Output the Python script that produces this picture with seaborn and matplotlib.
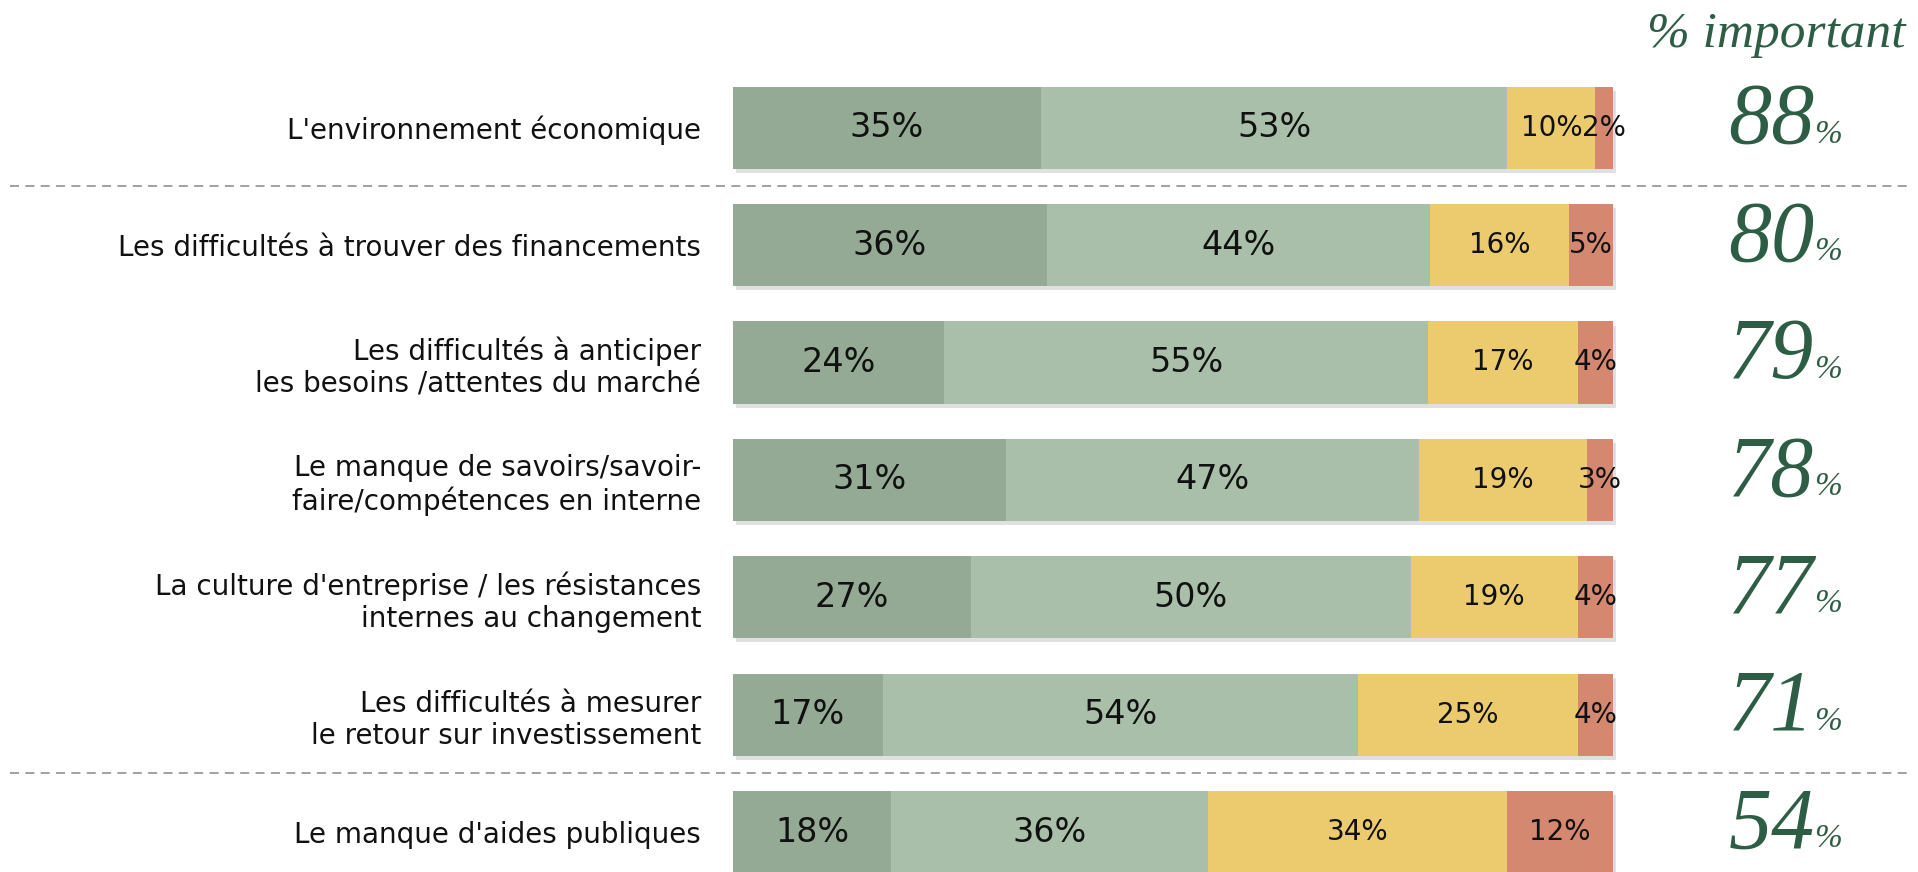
import pandas as pd
import matplotlib.pyplot as plt
import matplotlib.patheffects as pe
import seaborn as sns

# 項目とデータ
labels = [
    "L'environnement économique",
    "Les difficultés à trouver des financements",
    "Les difficultés à anticiper\nles besoins /attentes du marché",
    "Le manque de savoirs/savoir-\nfaire/compétences en interne",
    "La culture d'entreprise / les résistances\ninternes au changement",
    "Les difficultés à mesurer\nle retour sur investissement",
    "Le manque d'aides publiques",
]
tres_important = [35, 36, 24, 31, 27, 17, 18]
assez_important = [53, 44, 55, 47, 50, 54, 36]
peu_important = [10, 16, 17, 19, 19, 25, 34]
pas_important = [2, 5, 4, 3, 4, 4, 12]
pct_important = [88, 80, 79, 78, 77, 71, 54]

colors = ["#94AA95", "#A9BFAA", "#EBCB6D", "#D4886F"]
green_text = "#2D5E45"

df = pd.DataFrame({
    "label": labels,
    "s1": tres_important,
    "s2": assez_important,
    "s3": peu_important,
    "s4": pas_important,
})
series = ["s1", "s2", "s3", "s4"]

# 100%積み上げ（合計で割る）
share = df[series].div(df[series].sum(axis=1), axis=0) * 100
cum = share.cumsum(axis=1)

sns.set_style("white")
plt.rcParams["font.family"] = ["DejaVu Sans"]

W, H = 1918, 872
fig = plt.figure(figsize=(W / 100, H / 100), dpi=100)

# 軸の位置（ピクセルで計算）
ax_left = 733
ax = fig.add_axes([ax_left / W, 0, 1 - ax_left / W, 803 / H])
px_per_unit = 8.8
xmax = (W - ax_left) / px_per_unit

# 積み上げ棒（合計の大きい順に重ねて描く）
for i in range(3, -1, -1):
    n_before = len(ax.patches)
    sns.barplot(
        x=cum[series[i]],
        y=df["label"],
        orient="h",
        color=colors[i],
        width=0.70,
        saturation=1,
        linewidth=0,
        ax=ax,
    )
    if i == 3:
        # うっすら影をつける
        for p in ax.patches[n_before:]:
            p.set_path_effects([
                pe.SimplePatchShadow(offset=(2, -3), shadow_rgbFace="#000000", alpha=0.12),
                pe.Normal(),
            ])

# 棒の中の数値
for r in range(len(df)):
    for i, s in enumerate(series):
        v = df.loc[r, s]
        center = cum.loc[r, s] - share.loc[r, s] / 2
        ax.text(
            center, r, f"{v}%",
            ha="center", va="center",
            fontsize=24 if i < 2 else 20,
            color="#111111",
        )

# % important の数字
split = 122.9
for r, v in enumerate(pct_important):
    ax.text(split, r + 0.13, f"{v}", ha="right", va="baseline",
            fontsize=62, style="italic", family="Liberation Serif",
            color=green_text, clip_on=False)
    ax.text(split, r + 0.13, "%", ha="left", va="baseline",
            fontsize=24, style="italic", family="Liberation Serif",
            color=green_text, clip_on=False)

ax.text(118.6, -0.69, "% important", ha="center", va="baseline",
        fontsize=37, style="italic", family="Liberation Serif",
        color=green_text, clip_on=False)

# 区切りの点線
for yy in [0.5, 5.5]:
    ax.axhline(yy, xmin=(10 - ax_left) / (W - ax_left),
               xmax=(1908 - ax_left) / (W - ax_left),
               color="#9A9A9A", linestyle=(0, (5, 3.5)),
               linewidth=1.3, clip_on=False)

ax.set_xlim(0, xmax)
ax.set_ylim(6 + 40 / 117.4, -0.5)
ax.set_xlabel("")
ax.set_ylabel("")
ax.set_xticks([])
ax.tick_params(axis="y", length=0, pad=23, labelsize=20,
               labelcolor="#111111")
for lab in ax.get_yticklabels():
    lab.set_horizontalalignment("right")
    lab.set_linespacing(1.2)
sns.despine(ax=ax, left=True, bottom=True)

fig.savefig("out.png", dpi=100)
